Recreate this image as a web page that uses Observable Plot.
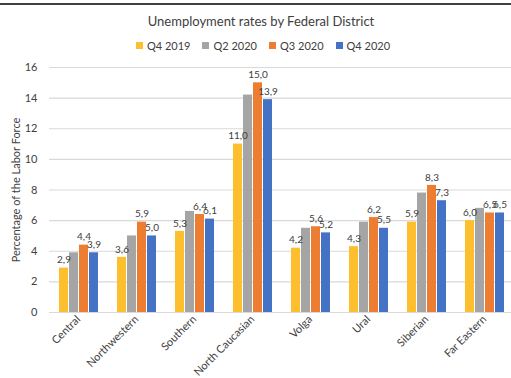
<!DOCTYPE html>
<html>
<head>
<meta charset="utf-8">
<script src="https://cdn.jsdelivr.net/npm/d3@7"></script>
<script src="https://cdn.jsdelivr.net/npm/@observablehq/plot@0.6"></script>
<style>
  body { margin:0; width:511px; height:378px; overflow:hidden; position:relative; background:#fff; font-family: Lato, "Open Sans", sans-serif; }
  #border { position:absolute; left:0; top:3px; width:511px; height:2px; background:#404040; }
  #title { position:absolute; top:13px; left:0; width:522px; text-align:center; font-size:13px; color:#404040; }
  #legend { position:absolute; top:39px; left:0; width:526px; display:flex; justify-content:center; gap:12px; font-size:11px; color:#404040; }
  #legend .item { display:flex; align-items:center; gap:4px; }
  #legend .sw { width:7px; height:7px; display:inline-block; }
  #chart { position:absolute; top:55px; left:0; width:530px; }
  #chart svg { max-width:none !important; }
</style>
</head>
<body>
<div id="border"></div>
<div id="title">Unemployment rates by Federal District</div>
<div id="legend"></div>
<div id="chart"></div>
<script>
const districts = ["Central","Northwestern","Southern","North Caucasian","Volga","Ural","Siberian","Far Eastern"];
const series = ["Q4 2019","Q2 2020","Q3 2020","Q4 2020"];
const colors = ["#FDBF2D","#A5A5A5","#ED7D31","#4472C4"];
const q4_2019 = [2.9,3.6,5.3,11.0,4.2,4.3,5.9,6.0];
const q2_2020 = [3.9,5.0,6.6,14.2,5.5,5.9,7.8,6.8];
const q3_2020 = [4.4,5.9,6.4,15.0,5.6,6.2,8.3,6.5];
const q4_2020 = [3.9,5.0,6.1,13.9,5.2,5.5,7.3,6.5];
const labelledSeries = ["Q4 2019","Q3 2020","Q4 2020"];
const yTicks = [0,2,4,6,8,10,12,14,16];
const yTitle = "Percentage of the Labor Force";

const valuesBySeries = [q4_2019, q2_2020, q3_2020, q4_2020];
const data = [];
districts.forEach((d, i) => {
  series.forEach((s, j) => data.push({district: d, series: s, value: valuesBySeries[j][i]}));
});
const fmt = v => d3.format(".1f")(v).replace(".", ",");

const legend = document.getElementById("legend");
series.forEach((s, j) => {
  const it = document.createElement("span");
  it.className = "item";
  it.innerHTML = `<span class="sw" style="background:${colors[j]}"></span><span>${s}</span>`;
  legend.appendChild(it);
});

const chart = Plot.plot({
  width: 530,
  height: 323,
  marginTop: 12,
  marginBottom: 66,
  marginLeft: 49,
  marginRight: 17,
  facet: {marginTop: 0, marginRight: 0, marginBottom: 0, marginLeft: 0},
  style: {fontFamily: "Lato, 'Open Sans', sans-serif", fontSize: "11px", color: "#404040", overflow: "visible", maxWidth: "none"},
  fx: {domain: districts, padding: 0, label: null},
  x: {domain: series, paddingInner: 0.14, paddingOuter: 0.83, axis: null},
  y: {domain: [0, 16], ticks: yTicks},
  color: {domain: series, range: colors},
  marks: [
    Plot.gridY(yTicks, {stroke: "#d9d9d9", strokeOpacity: 1, strokeWidth: 1.2}),
    Plot.barY(data, {fx: "district", x: "series", y: "value", fill: "series"}),
    Plot.text(data.filter(d => labelledSeries.includes(d.series)), {
      fx: "district", x: "series", y: "value", text: d => fmt(d.value), dy: -8, fill: "#404040", fontSize: 10
    }),
    Plot.axisY(yTicks, {tickSize: 0, tickPadding: 12, label: yTitle, labelAnchor: "center", labelArrow: "none", labelOffset: 37, fill: "#404040"}),
    Plot.axisFx({anchor: "bottom", tickSize: 0, tickRotate: -45, tickPadding: 5, label: null, fill: "#404040"})
  ]
});
document.getElementById("chart").appendChild(chart);
</script>
</body>
</html>
